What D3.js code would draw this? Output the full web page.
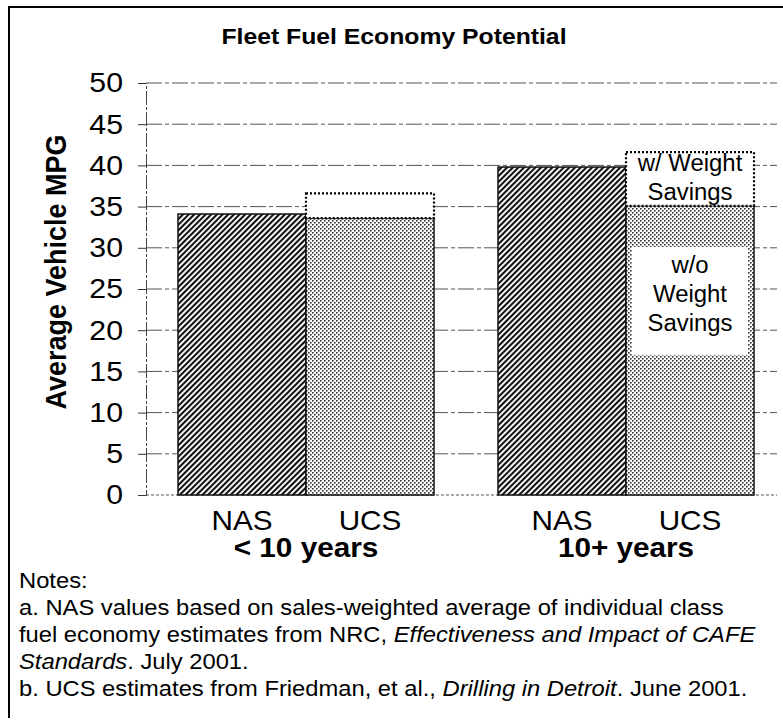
<!DOCTYPE html>
<html>
<head>
<meta charset="utf-8">
<script src="https://cdn.jsdelivr.net/npm/d3@7"></script>
<style>
  body { margin: 0; background: #fff; }
  svg { display: block; font-family: "Liberation Sans", Arial, sans-serif; }
</style>
</head>
<body>
<svg id="chart" width="783" height="723"></svg>
<script>
// data
const groups = ["< 10 years", "10+ years"];
const sources = ["NAS", "UCS"];
const nasValues = [34.1, 39.8];
const ucsWithoutWeight = [33.6, 35.1];
const ucsWithWeight = [36.6, 41.6];
const yTicks = [0, 5, 10, 15, 20, 25, 30, 35, 40, 45, 50];
const notes = [
  [{ t: "Notes:" }],
  [{ t: "a. NAS values based on sales-weighted average of individual class" }],
  [{ t: "fuel economy estimates from NRC, " }, { t: "Effectiveness and Impact of CAFE", i: true }],
  [{ t: "Standards", i: true }, { t: ". July 2001." }],
  [{ t: "b. UCS estimates from Friedman, et al., " }, { t: "Drilling in Detroit", i: true }, { t: ". June 2001." }]
];

const svg = d3.select("#chart");
const margin = { top: 83, left: 146, bottom: 495 };
const gridRight = 777;
const sx = 1.1; // the scanned text is a bit wide

// text with a horizontal stretch
function label(x, y, str, size, opts = {}) {
  return svg.append("text")
    .attr("transform", `translate(${x},${y}) scale(${opts.sx || sx},1)`)
    .attr("text-anchor", opts.anchor || "middle")
    .attr("font-size", size)
    .attr("font-weight", opts.bold ? "bold" : null)
    .text(str);
}

// patterns
const defs = svg.append("defs");
const hatch = defs.append("pattern")
  .attr("id", "hatch")
  .attr("patternUnits", "userSpaceOnUse")
  .attr("width", 4).attr("height", 4)
  .attr("patternTransform", "rotate(45)");
hatch.append("rect").attr("width", 4).attr("height", 4).attr("fill", "#fff");
hatch.append("rect").attr("width", 2.1).attr("height", 4).attr("fill", "#111");

const dots = defs.append("pattern")
  .attr("id", "dots")
  .attr("patternUnits", "userSpaceOnUse")
  .attr("width", 4).attr("height", 4);
dots.append("rect").attr("width", 4).attr("height", 4).attr("fill", "#fff");
dots.append("rect").attr("x", 0).attr("y", 0).attr("width", 1.6).attr("height", 1.6).attr("fill", "#333");
dots.append("rect").attr("x", 2).attr("y", 2).attr("width", 1.6).attr("height", 1.6).attr("fill", "#333");

// outer frame (only top and left edges show)
svg.append("path")
  .attr("d", "M9,718V7H783")
  .attr("fill", "none")
  .attr("stroke", "#000")
  .attr("stroke-width", 2);

label(394, 44, "Fleet Fuel Economy Potential", 22.5, { bold: true });

// scales
const y = d3.scaleLinear().domain([0, 50]).range([margin.bottom, margin.top]);
const x0 = d3.scaleBand().domain(groups).range([146, 786]).paddingInner(0.2).paddingOuter(0.1);
const x1 = d3.scaleBand().domain(sources).range([0, x0.bandwidth()]);

// gridlines
svg.append("g")
  .selectAll("line")
  .data(yTicks)
  .join("line")
  .attr("x1", margin.left).attr("x2", gridRight)
  .attr("y1", d => y(d)).attr("y2", d => y(d))
  .attr("stroke", "#555")
  .attr("stroke-width", 1)
  .attr("stroke-dasharray", d => d === 0 ? "3,2" : "16,3,4,3");

// y axis
const yAxis = svg.append("g")
  .attr("transform", `translate(${margin.left},0)`)
  .call(d3.axisLeft(y).tickValues(yTicks).tickSize(8));
yAxis.select(".domain").attr("stroke", "#444").attr("stroke-dasharray", "14,2,3,2");
yAxis.selectAll(".tick line").attr("stroke", "#333");
yAxis.selectAll(".tick text")
  .attr("x", 0)
  .attr("transform", `translate(-23,0) scale(${sx},1)`)
  .attr("font-size", 27.5).attr("fill", "#000")
  .attr("font-family", "Liberation Sans, Arial, sans-serif");

svg.append("text")
  .attr("transform", "translate(66,272) rotate(-90) scale(1,1.12)")
  .attr("text-anchor", "middle")
  .attr("font-size", 27).attr("font-weight", "bold")
  .text("Average Vehicle MPG");

// bars
const bars = svg.append("g");
groups.forEach((g, i) => {
  const gx = x0(g);
  // NAS
  bars.append("rect")
    .attr("x", gx + x1("NAS"))
    .attr("y", y(nasValues[i]))
    .attr("width", x1.bandwidth())
    .attr("height", y(0) - y(nasValues[i]))
    .attr("fill", "url(#hatch)")
    .attr("stroke", "#111").attr("stroke-width", 1.5);
  // UCS without weight savings
  bars.append("rect")
    .attr("x", gx + x1("UCS"))
    .attr("y", y(ucsWithoutWeight[i]))
    .attr("width", x1.bandwidth())
    .attr("height", y(0) - y(ucsWithoutWeight[i]))
    .attr("fill", "url(#dots)")
    .attr("stroke", "#111").attr("stroke-width", 1.5);
  // UCS weight savings increment
  bars.append("rect")
    .attr("x", gx + x1("UCS"))
    .attr("y", y(ucsWithWeight[i]))
    .attr("width", x1.bandwidth())
    .attr("height", y(ucsWithoutWeight[i]) - y(ucsWithWeight[i]))
    .attr("fill", "#fff")
    .attr("stroke", "#000").attr("stroke-width", 2.2)
    .attr("stroke-dasharray", "2,2");
});

// annotations on the 10+ UCS bar
const ucsX = x0(groups[1]) + x1("UCS");
const ucsMid = ucsX + x1.bandwidth() / 2;
svg.append("rect")
  .attr("x", ucsX + 6).attr("y", y(30.1))
  .attr("width", x1.bandwidth() - 12)
  .attr("height", y(17) - y(30.1))
  .attr("fill", "#fff");

[["w/ Weight", 171], ["Savings", 200]].forEach(([t, yy]) => label(ucsMid, yy, t, 23, { sx: 1.04 }));
[["w/o", 273], ["Weight", 302], ["Savings", 331]].forEach(([t, yy]) => label(ucsMid, yy, t, 23, { sx: 1.04 }));

// x labels
groups.forEach(g => {
  sources.forEach(s => {
    label(x0(g) + x1(s) + x1.bandwidth() / 2, 530, s, 27);
  });
  label(x0(g) + x0.bandwidth() / 2, 557, g, 27, { bold: true });
});

// notes
notes.forEach((parts, i) => {
  const t = svg.append("text")
    .attr("transform", `translate(19,${588 + i * 27}) scale(${sx},1)`)
    .attr("font-size", 21.6);
  parts.forEach(p => {
    t.append("tspan")
      .attr("font-style", p.i ? "italic" : null)
      .text(p.t);
  });
});
</script>
</body>
</html>
